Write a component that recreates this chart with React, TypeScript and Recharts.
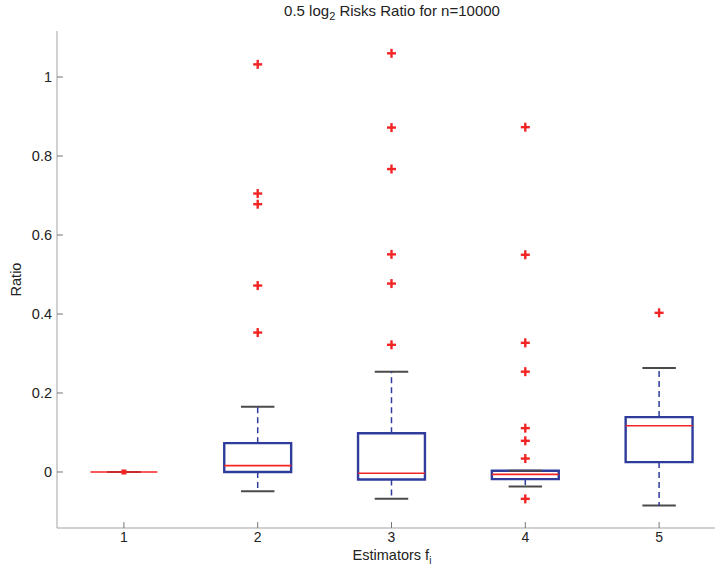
import React from 'react';
import {
  ScatterChart,
  Scatter,
  XAxis,
  YAxis,
  ReferenceArea,
  ReferenceLine,
  Label,
} from 'recharts';

// Box-plot summary per estimator f_i
const estimators = [1, 2, 3, 4, 5];
const lowerWhisker = [0, -0.049, -0.068, -0.037, -0.085];
const lowerQuartile = [0, 0.0, -0.019, -0.018, 0.025];
const medians = [0, 0.016, -0.003, -0.006, 0.117];
const upperQuartile = [0, 0.073, 0.098, 0.003, 0.139];
const upperWhisker = [0, 0.165, 0.254, 0.003, 0.263];

// Outlying values per estimator
const outliers1: number[] = [];
const outliers2 = [1.032, 0.705, 0.678, 0.472, 0.353];
const outliers3 = [1.06, 0.872, 0.767, 0.551, 0.477, 0.322];
const outliers4 = [0.873, 0.55, 0.327, 0.254, 0.111, 0.079, 0.034, -0.068];
const outliers5 = [0.403];
const allOutliers = [outliers1, outliers2, outliers3, outliers4, outliers5];

// Estimator 1 collapses to a single point
const flatPoints = [{ x: 1, y: 0 }];

const yTicks = [0, 0.2, 0.4, 0.6, 0.8, 1];
const xDomain: [number, number] = [0.5, 5.5];
const yDomain: [number, number] = [-0.1418, 1.1165];

const outlierData = allOutliers.flatMap((vals, i) =>
  vals.map((v) => ({ x: estimators[i], y: v }))
);

const BLUE = '#2f3c9c';
const RED = '#f22424';
const CAP = '#4a4a4a';
const AXIS = '#a3a3a3';
const HALF_BOX = 0.25;
const HALF_CAP = 0.125;

const PlusShape = (props: any) => {
  const { cx, cy } = props;
  if (cx == null || cy == null) return null;
  const r = 4.5;
  return (
    <g>
      <line x1={cx - r} y1={cy} x2={cx + r} y2={cy} stroke={RED} strokeWidth={2.4} />
      <line x1={cx} y1={cy - r} x2={cx} y2={cy + r} stroke={RED} strokeWidth={2.4} />
    </g>
  );
};

const DotShape = (props: any) => {
  const { cx, cy } = props;
  if (cx == null || cy == null) return null;
  return <rect x={cx - 2.5} y={cy - 2.5} width={5} height={5} fill={RED} />;
};

const font = '"Liberation Sans", Arial, Helvetica, sans-serif';

export default function App() {
  return (
    <div
      style={{
        position: 'absolute',
        left: 0,
        top: 0,
        width: 715,
        height: 566,
        overflow: 'hidden',
        background: '#ffffff',
        fontFamily: font,
      }}
    >
      <div
        style={{
          position: 'absolute',
          left: 272,
          width: 240,
          top: 3,
          textAlign: 'center',
          fontSize: 15,
          color: '#222',
          whiteSpace: 'nowrap',
          lineHeight: '16px',
        }}
      >
        0.5 log<sub style={{ fontSize: 11, verticalAlign: -4 }}>2</sub> Risks Ratio for n=10000
      </div>
      <div
        style={{
          position: 'absolute',
          left: 272,
          width: 240,
          top: 548,
          textAlign: 'center',
          fontSize: 14.5,
          color: '#222',
          whiteSpace: 'nowrap',
          lineHeight: '14px',
        }}
      >
        Estimators f<sub style={{ fontSize: 10, verticalAlign: -4 }}>i</sub>
      </div>
      <ScatterChart
        width={730}
        height={566}
        margin={{ top: 31, right: 4, bottom: 0, left: 0 }}
        style={{ fontFamily: font }}
      >
        <XAxis
          xAxisId={0}
          type="number"
          dataKey="x"
          domain={xDomain}
          ticks={estimators}
          allowDataOverflow
          height={38}
          tickSize={-6}
          tickMargin={10}
          stroke={AXIS}
          tickLine={{ stroke: '#777' }}
          tick={{ fill: '#222', fontSize: 14 }}
        />
        <XAxis
          xAxisId="top"
          orientation="top"
          type="number"
          domain={xDomain}
          ticks={estimators}
          allowDataOverflow
          height={0}
          tickSize={-6}
          tick={false}
          stroke={AXIS}
          tickLine={{ stroke: '#777' }}
        />
        <YAxis
          type="number"
          dataKey="y"
          domain={yDomain}
          ticks={yTicks}
          allowDataOverflow
          width={57}
          tickSize={-6}
          tickMargin={11}
          stroke={AXIS}
          tickLine={{ stroke: '#777' }}
          tick={{ fill: '#222', fontSize: 14.5 }}
          tickFormatter={(v: number) => String(v)}
        >
          <Label
            value="Ratio"
            angle={-90}
            position="insideLeft"
            offset={16}
            style={{ fill: '#222', fontSize: 14.5, textAnchor: 'middle' }}
          />
        </YAxis>

        {/* whisker caps */}
        {estimators.map((x, i) => (
          <ReferenceLine
            key={`capU${x}`}
            segment={[
              { x: x - HALF_CAP, y: upperWhisker[i] },
              { x: x + HALF_CAP, y: upperWhisker[i] },
            ]}
            stroke={CAP}
            strokeWidth={2}
          />
        ))}
        {estimators.map((x, i) => (
          <ReferenceLine
            key={`capL${x}`}
            segment={[
              { x: x - HALF_CAP, y: lowerWhisker[i] },
              { x: x + HALF_CAP, y: lowerWhisker[i] },
            ]}
            stroke={CAP}
            strokeWidth={2}
          />
        ))}

        {/* dashed whiskers */}
        {estimators.map((x, i) => (
          <ReferenceLine
            key={`whU${x}`}
            segment={[
              { x, y: upperQuartile[i] },
              { x, y: upperWhisker[i] },
            ]}
            stroke={BLUE}
            strokeWidth={1.5}
            strokeDasharray="6 4"
          />
        ))}
        {estimators.map((x, i) => (
          <ReferenceLine
            key={`whL${x}`}
            segment={[
              { x, y: lowerQuartile[i] },
              { x, y: lowerWhisker[i] },
            ]}
            stroke={BLUE}
            strokeWidth={1.5}
            strokeDasharray="6 4"
          />
        ))}

        {/* quartile boxes */}
        {estimators.map((x, i) => (
          <ReferenceArea
            key={`box${x}`}
            x1={x - HALF_BOX}
            x2={x + HALF_BOX}
            y1={lowerQuartile[i]}
            y2={upperQuartile[i]}
            fill="#ffffff"
            fillOpacity={0}
            stroke={BLUE}
            strokeWidth={2.4}
          />
        ))}

        {/* medians */}
        {estimators.map((x, i) => (
          <ReferenceLine
            key={`med${x}`}
            segment={[
              { x: x - HALF_BOX, y: medians[i] },
              { x: x + HALF_BOX, y: medians[i] },
            ]}
            stroke={RED}
            strokeWidth={1.6}
          />
        ))}

        <Scatter data={outlierData} shape={PlusShape} isAnimationActive={false} />
        <Scatter data={flatPoints} shape={DotShape} isAnimationActive={false} />
      </ScatterChart>
    </div>
  );
}
